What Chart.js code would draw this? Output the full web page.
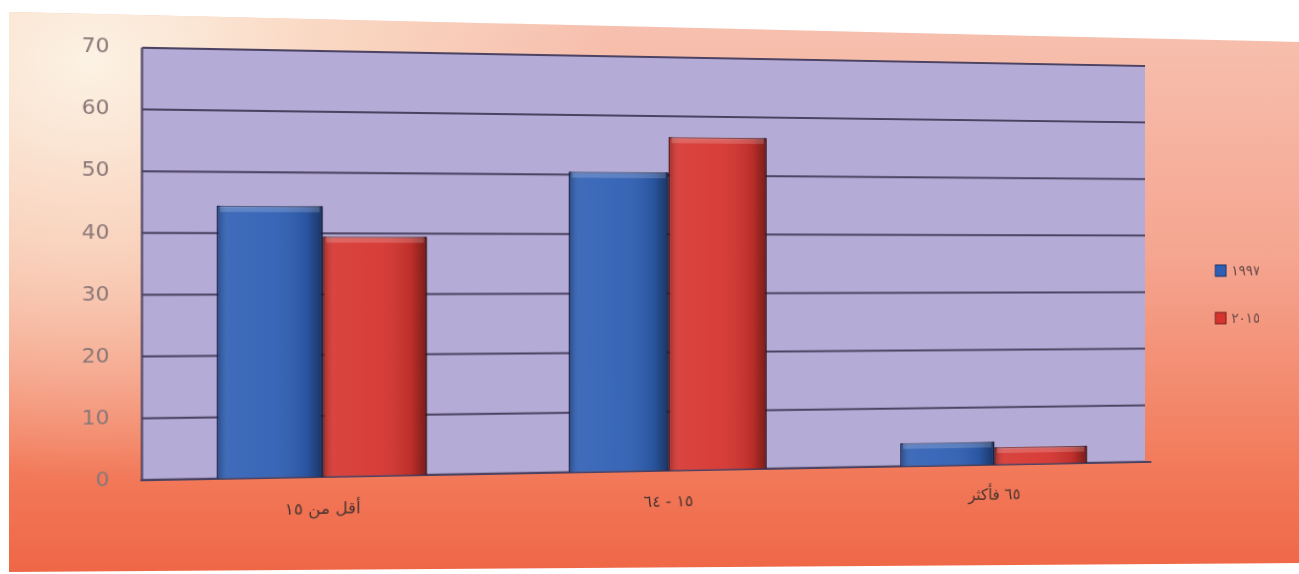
<!DOCTYPE html>
<html>
<head>
<meta charset="utf-8">
<script src="https://cdn.jsdelivr.net/npm/chart.js@4.4.1/dist/chart.umd.min.js"></script>
<style>
  html, body { margin: 0; padding: 0; background: #ffffff; overflow: hidden; }
  #paper {
    position: absolute; left: 0; top: 0; width: 1299px; height: 574px;
    clip-path: polygon(9px 12px, 1299px 42px, 1299px 563px, 9px 572px);
    background:
      radial-gradient(ellipse 520px 420px at 90px 60px, rgba(252,242,228,1) 0%, rgba(250,222,200,0.8) 45%, rgba(250,200,180,0) 100%),
      linear-gradient(to bottom, #f7c3b2 0%, #f5a590 45%, #f27c5c 80%, #ef6646 100%);
  }
  /* the photo is taken at a slight angle */
  #wrap {
    position: absolute; left: 0; top: 0; width: 1299px; height: 574px;
    transform-origin: 650px 264px;
    transform: perspective(1500px) rotateY(7.5deg);
  }
</style>
</head>
<body>
<div id="paper"></div>
<div id="wrap"><canvas id="chart" width="1299" height="574"></canvas></div>
<script>
// chart data
const categories = ['\u200Fأقل من ١٥\u200F', '\u200F١٥ - ٦٤\u200F', '\u200F٦٥ فأكثر\u200F'];
const seriesNames = ['١٩٩٧', '٢٠١٥'];
const values1997 = [44.5, 50.5, 4];
const values2015 = [39.5, 56.5, 3];
const yTicks = [0, 10, 20, 30, 40, 50, 60, 70];

const ctx = document.getElementById('chart').getContext('2d');

// back wall + gridlines, drawn from the y scale
const wallPlugin = {
  id: 'wall',
  beforeDatasetsDraw(chart) {
    const { ctx, chartArea, scales } = chart;
    const left = chartArea.left;
    const right = chartArea.right - 6;
    const top = scales.y.getPixelForValue(70);
    const bottom = scales.y.getPixelForValue(0);
    ctx.save();
    ctx.fillStyle = '#b4acd6';
    ctx.fillRect(left, top, right - left, bottom - top);
    ctx.strokeStyle = '#4c4262';
    ctx.lineWidth = 2;
    yTicks.forEach(v => {
      const y = scales.y.getPixelForValue(v);
      ctx.beginPath();
      ctx.moveTo(left, y);
      ctx.lineTo(right, y);
      ctx.stroke();
    });
    ctx.beginPath();
    ctx.moveTo(left, top);
    ctx.lineTo(left, bottom);
    ctx.stroke();
    ctx.restore();
  }
};

// shading on bars for the 3d look
const shadePlugin = {
  id: 'shade',
  afterDatasetsDraw(chart) {
    const { ctx } = chart;
    chart.data.datasets.forEach((ds, i) => {
      chart.getDatasetMeta(i).data.forEach(bar => {
        const x0 = bar.x - bar.width / 2;
        const x1 = bar.x + bar.width / 2;
        const g = ctx.createLinearGradient(x0, 0, x1, 0);
        g.addColorStop(0, 'rgba(0,0,0,0.25)');
        g.addColorStop(0.12, 'rgba(255,255,255,0.08)');
        g.addColorStop(0.5, 'rgba(255,255,255,0.05)');
        g.addColorStop(0.85, 'rgba(0,0,0,0.12)');
        g.addColorStop(1, 'rgba(0,0,0,0.45)');
        ctx.save();
        ctx.fillStyle = g;
        ctx.fillRect(x0, bar.y, bar.width, bar.base - bar.y);
        ctx.fillStyle = 'rgba(255,255,255,0.18)';
        ctx.fillRect(x0 + 3, bar.y, bar.width - 6, Math.min(6, bar.base - bar.y));
        ctx.restore();
      });
    });
  }
};

// legend at the right, one entry per dataset
const legendPlugin = {
  id: 'sideLegend',
  afterDraw(chart) {
    const { ctx } = chart;
    ctx.save();
    ctx.font = '15px "DejaVu Sans"';
    ctx.letterSpacing = '4px';
    ctx.textBaseline = 'middle';
    ctx.textAlign = 'left';
    chart.data.datasets.forEach((ds, i) => {
      const y = 271 + i * 50;
      ctx.fillStyle = ds.backgroundColor;
      ctx.fillRect(1250, y - 6, 12, 12);
      ctx.strokeStyle = ds.borderColor;
      ctx.lineWidth = 1;
      ctx.strokeRect(1250, y - 6, 12, 12);
      ctx.fillStyle = '#6a4a48';
      ctx.fillText(ds.label, 1268, y + 1);
    });
    ctx.restore();
  }
};

new Chart(ctx, {
  type: 'bar',
  data: {
    labels: categories,
    datasets: [
      {
        label: seriesNames[0],
        data: values1997,
        backgroundColor: '#2f5fb4',
        borderColor: '#1c2f66',
        borderWidth: 1.5,
        categoryPercentage: 0.59,
        barPercentage: 1
      },
      {
        label: seriesNames[1],
        data: values2015,
        backgroundColor: '#d6342f',
        borderColor: '#6e1a1f',
        borderWidth: 1.5,
        categoryPercentage: 0.59,
        barPercentage: 1
      }
    ]
  },
  options: {
    responsive: false,
    animation: false,
    layout: { padding: { left: 74, top: 57, bottom: 40, right: 121 } },
    plugins: {
      legend: { display: false },
      tooltip: { enabled: false }
    },
    scales: {
      x: {
        grid: { display: false, drawTicks: false },
        border: { display: true, color: '#4c4262', width: 2 },
        ticks: {
          color: '#4a3430',
          font: { family: 'DejaVu Sans', size: 16 },
          padding: 22
        }
      },
      y: {
        min: 0,
        max: 70,
        grid: { display: false, drawTicks: false },
        border: { display: false },
        ticks: {
          stepSize: 10,
          color: '#8a7777',
          font: { family: 'DejaVu Sans', size: 20 },
          padding: 30
        }
      }
    }
  },
  plugins: [wallPlugin, shadePlugin, legendPlugin]
});
</script>
</body>
</html>
